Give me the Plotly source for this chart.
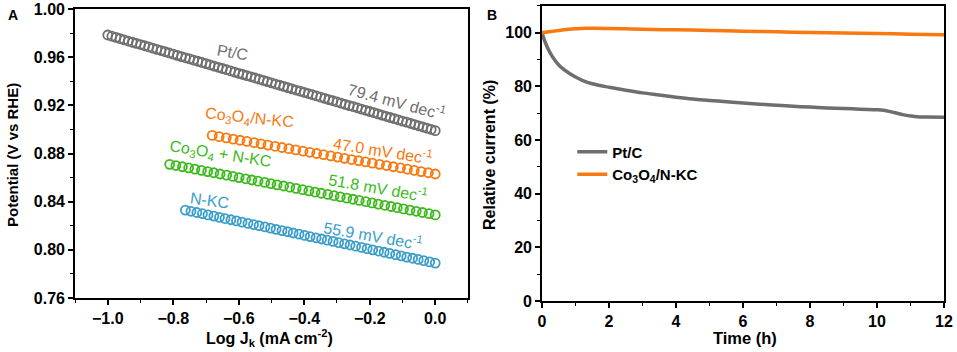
import plotly.graph_objects as go

# ---------------- Panel A data: Tafel plots ----------------
ptc_x = [-1.0, -0.9875, -0.975, -0.9625, -0.95, -0.9375, -0.925, -0.9125, -0.9, -0.8875,
         -0.875, -0.8625, -0.85, -0.8375, -0.825, -0.8125, -0.8, -0.7875, -0.775, -0.7625,
         -0.75, -0.7375, -0.725, -0.7125, -0.7, -0.6875, -0.675, -0.6625, -0.65, -0.6375,
         -0.625, -0.6125, -0.6, -0.5875, -0.575, -0.5625, -0.55, -0.5375, -0.525, -0.5125,
         -0.5, -0.4875, -0.475, -0.4625, -0.45, -0.4375, -0.425, -0.4125, -0.4, -0.3875,
         -0.375, -0.3625, -0.35, -0.3375, -0.325, -0.3125, -0.3, -0.2875, -0.275, -0.2625,
         -0.25, -0.2375, -0.225, -0.2125, -0.2, -0.1875, -0.175, -0.1625, -0.15, -0.1375,
         -0.125, -0.1125, -0.1, -0.0875, -0.075, -0.0625, -0.05, -0.0375, -0.025, -0.0125, 0.0]
ptc_y = [0.9784, 0.9774, 0.9764, 0.9754, 0.9744, 0.9734, 0.9724, 0.9715, 0.9705, 0.9695,
         0.9685, 0.9675, 0.9665, 0.9655, 0.9645, 0.9635, 0.9625, 0.9615, 0.9605, 0.9595,
         0.9586, 0.9576, 0.9566, 0.9556, 0.9546, 0.9536, 0.9526, 0.9516, 0.9506, 0.9496,
         0.9486, 0.9476, 0.9466, 0.9456, 0.9447, 0.9437, 0.9427, 0.9417, 0.9407, 0.9397,
         0.9387, 0.9377, 0.9367, 0.9357, 0.9347, 0.9337, 0.9327, 0.9318, 0.9308, 0.9298,
         0.9288, 0.9278, 0.9268, 0.9258, 0.9248, 0.9238, 0.9228, 0.9218, 0.9208, 0.9198,
         0.9189, 0.9179, 0.9169, 0.9159, 0.9149, 0.9139, 0.9129, 0.9119, 0.9109, 0.9099,
         0.9089, 0.9079, 0.9069, 0.9060, 0.9050, 0.9040, 0.9030, 0.9020, 0.9010, 0.9000, 0.8990]

co_x = [-0.681, -0.660, -0.638, -0.617, -0.596, -0.575, -0.553, -0.532, -0.511, -0.489,
        -0.468, -0.447, -0.426, -0.404, -0.383, -0.362, -0.341, -0.319, -0.298, -0.277,
        -0.255, -0.234, -0.213, -0.192, -0.170, -0.149, -0.128, -0.106, -0.085, -0.064,
        -0.043, -0.021, 0.000]
co_y = [0.895, 0.894, 0.893, 0.892, 0.891, 0.890, 0.889, 0.888, 0.887, 0.886,
        0.885, 0.884, 0.883, 0.882, 0.881, 0.880, 0.879, 0.878, 0.877, 0.876,
        0.875, 0.874, 0.873, 0.872, 0.871, 0.870, 0.869, 0.868, 0.867, 0.866,
        0.865, 0.864, 0.863]

mix_x = [-0.811, -0.792, -0.772, -0.753, -0.734, -0.714, -0.695, -0.676, -0.657, -0.637,
         -0.618, -0.599, -0.579, -0.560, -0.541, -0.521, -0.502, -0.483, -0.463, -0.444,
         -0.425, -0.405, -0.386, -0.367, -0.348, -0.328, -0.309, -0.290, -0.270, -0.251,
         -0.232, -0.212, -0.193, -0.174, -0.154, -0.135, -0.116, -0.097, -0.077, -0.058,
         -0.039, -0.019, 0.000]
mix_y = [0.871, 0.870, 0.869, 0.868, 0.867, 0.866, 0.865, 0.864, 0.863, 0.862,
         0.861, 0.860, 0.859, 0.858, 0.857, 0.856, 0.855, 0.854, 0.853, 0.852,
         0.851, 0.850, 0.849, 0.848, 0.847, 0.846, 0.845, 0.844, 0.843, 0.842,
         0.841, 0.840, 0.839, 0.838, 0.837, 0.836, 0.835, 0.834, 0.833, 0.832,
         0.831, 0.830, 0.829]

nkc_x = [-0.763, -0.746, -0.728, -0.711, -0.694, -0.676, -0.659, -0.642, -0.624, -0.607,
         -0.590, -0.572, -0.555, -0.538, -0.520, -0.503, -0.486, -0.468, -0.451, -0.434,
         -0.416, -0.399, -0.382, -0.364, -0.347, -0.330, -0.312, -0.295, -0.277, -0.260,
         -0.243, -0.225, -0.208, -0.191, -0.173, -0.156, -0.139, -0.121, -0.104, -0.087,
         -0.069, -0.052, -0.035, -0.017, 0.000]
nkc_y = [0.833, 0.832, 0.831, 0.830, 0.829, 0.828, 0.827, 0.826, 0.825, 0.824,
         0.823, 0.822, 0.821, 0.820, 0.819, 0.818, 0.817, 0.816, 0.815, 0.814,
         0.813, 0.812, 0.811, 0.810, 0.809, 0.808, 0.807, 0.806, 0.805, 0.804,
         0.803, 0.802, 0.801, 0.800, 0.799, 0.798, 0.797, 0.796, 0.795, 0.794,
         0.793, 0.792, 0.791, 0.790, 0.789]

# ---------------- Panel B data: stability ----------------
ptc_t = [0, 0.05, 0.1, 0.2, 0.3, 0.4, 0.5, 0.6, 0.8, 1.0, 1.2, 1.5, 2.0, 2.5, 3.0, 3.5,
         4.0, 4.5, 5.0, 5.5, 6.0, 6.5, 7.0, 7.5, 8.0, 8.5, 9.0, 9.5, 10.0, 10.2, 10.4,
         10.6, 10.8, 11.0, 11.2, 11.5, 12.0]
ptc_i = [100, 98.0, 96.3, 93.5, 91.3, 89.5, 88.0, 86.8, 85.0, 83.5, 82.3, 81.0, 79.7, 78.6,
         77.6, 76.8, 76.0, 75.3, 74.8, 74.3, 73.8, 73.4, 73.0, 72.6, 72.3, 72.0, 71.8, 71.5,
         71.3, 71.1, 70.6, 70.0, 69.4, 69.0, 68.7, 68.6, 68.5]
co_t = [0, 0.2, 0.5, 0.8, 1.0, 1.3, 1.6, 2.0, 2.5, 3.0, 4.0, 5.0, 6.0, 7.0, 8.0, 9.0,
        10.0, 11.0, 12.0]
co_i = [100, 100.4, 100.9, 101.3, 101.5, 101.7, 101.7, 101.6, 101.5, 101.3, 101.1, 100.9,
        100.6, 100.4, 100.1, 99.9, 99.7, 99.5, 99.3]

GRAY = "#6e6e6e"
ORANGE = "#f7790f"
GREEN = "#3cba1c"
BLUE = "#3a9dca"
FONT = "Liberation Sans, Arial, sans-serif"

fig = go.Figure()

for xs, ys, col in [(ptc_x, ptc_y, GRAY), (co_x, co_y, ORANGE),
                    (mix_x, mix_y, GREEN), (nkc_x, nkc_y, BLUE)]:
    fig.add_trace(go.Scatter(
        x=xs, y=ys, mode="markers", showlegend=False,
        marker=dict(symbol="circle-open", size=9, color=col, line=dict(width=1.8, color=col)),
        xaxis="x", yaxis="y"))

fig.add_trace(go.Scatter(x=ptc_t, y=ptc_i, mode="lines", name="Pt/C",
                         line=dict(color=GRAY, width=3.5, shape="spline"), xaxis="x2", yaxis="y2"))
fig.add_trace(go.Scatter(x=co_t, y=co_i, mode="lines", name="Co<sub>3</sub>O<sub>4</sub>/N-KC",
                         line=dict(color=ORANGE, width=3.5, shape="spline"), xaxis="x2", yaxis="y2"))

axis_common = dict(
    showline=True, linecolor="black", linewidth=1.8, mirror=True,
    ticks="outside", ticklen=5, tickwidth=1.5, tickcolor="black",
    showgrid=False, zeroline=False, automargin=False,
    tickfont=dict(family=FONT, size=16, color="black", weight="bold"),
)

fig.update_layout(
    width=957, height=352,
    margin=dict(l=0, r=0, t=0, b=0),
    paper_bgcolor="white", plot_bgcolor="white",
    font=dict(family=FONT, size=14, color="black"),
    xaxis=dict(domain=[0.0784, 0.489], range=[-1.1, 0.1], tickvals=[-1.0, -0.8, -0.6, -0.4, -0.2, 0.0],
               tickformat=".1f", minor=dict(ticks="outside", ticklen=3, tickwidth=1.2, dtick=0.1,
                                            tick0=-1.1, tickcolor="black"),
               anchor="y", **axis_common),
    yaxis=dict(domain=[0.1534, 0.9744], range=[0.76, 1.00], dtick=0.04, tick0=0.76,
               tickformat=".2f", minor=dict(ticks="outside", ticklen=3, tickwidth=1.2, dtick=0.02,
                                            tickcolor="black"),
               anchor="x", **axis_common),
    xaxis2=dict(domain=[0.5664, 0.9864], range=[0, 12], dtick=2, tick0=0,
                minor=dict(ticks="outside", ticklen=3, tickwidth=1.2, dtick=1, tickcolor="black"),
                anchor="y2", **axis_common),
    yaxis2=dict(domain=[0.1449, 0.983], range=[0, 110], tickvals=[0, 20, 40, 60, 80, 100],
                minor=dict(ticks="outside", ticklen=3, tickwidth=1.2, dtick=10, tickcolor="black"),
                anchor="x2", **axis_common),
    legend=dict(x=0.598, y=0.615, xanchor="left", yanchor="top", bgcolor="rgba(0,0,0,0)",
                font=dict(family=FONT, size=15, color="black", weight="bold"),
                tracegroupgap=0, itemwidth=30),
)

def txt(x, y, s, col, angle=0, size=16, xref="x", yref="y", bold=False, ax="center"):
    fig.add_annotation(x=x, y=y, xref=xref, yref=yref, text=s, showarrow=False,
                       textangle=angle, xanchor=ax, yanchor="middle",
                       font=dict(family=FONT, size=size, color=col, weight="bold" if bold else "normal"))

# series labels in panel A
txt(-0.618, 0.964, "Pt/C", GRAY, 10)
txt(-0.117, 0.924, "79.4 mV dec<sup>-1</sup>", GRAY, 15)
txt(-0.566, 0.909, "Co<sub>3</sub>O<sub>4</sub>/N-KC", ORANGE, 6)
txt(-0.160, 0.883, "47.0 mV dec<sup>-1</sup>", ORANGE, 9)
txt(-0.657, 0.879, "Co<sub>3</sub>O<sub>4</sub> + N-KC", GREEN, 9)
txt(-0.175, 0.852, "51.8 mV dec<sup>-1</sup>", GREEN, 10)
txt(-0.688, 0.841, "N-KC", BLUE, 8)
txt(-0.190, 0.812, "55.9 mV dec<sup>-1</sup>", BLUE, 10)

# axis titles and panel letters
txt(0.0136, 0.5597, "Potential (V vs RHE)", "black", -90, 15, "paper", "paper", True)
txt(0.282, 0.040, "Log J<sub>k</sub> (mA cm<sup>-2</sup>)", "black", 0, 16, "paper", "paper", True)
txt(0.512, 0.5597, "Relative current (%)", "black", -90, 16, "paper", "paper", True)
txt(0.778, 0.040, "Time (h)", "black", 0, 16.5, "paper", "paper", True)
txt(0.0136, 0.957, "A", "black", 0, 14, "paper", "paper", True)
txt(0.514, 0.957, "B", "black", 0, 14, "paper", "paper", True)

fig.write_html("out.html", config={"displayModeBar": False},
               post_script="document.body.style.margin='0';")
